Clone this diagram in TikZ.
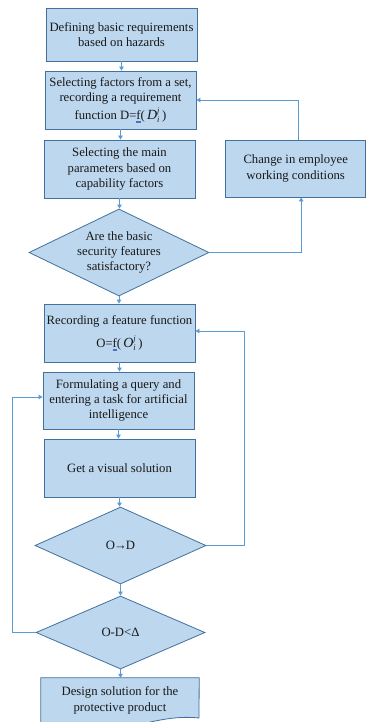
\documentclass[tikz,border=0pt]{standalone}
\usepackage{fontspec}
\setmainfont{Liberation Serif}
\usetikzlibrary{shapes.geometric,arrows.meta}
\definecolor{boxfill}{HTML}{BDD7EE}
\definecolor{boxline}{HTML}{41719C}
\definecolor{arr}{HTML}{5B9BD5}
\definecolor{ulblue}{HTML}{4472C4}
\newcommand\dul[1]{\setbox0\hbox{#1}\rlap{\textcolor{ulblue}{\rule[-1.8pt]{\wd0}{0.45pt}}}\rlap{\textcolor{ulblue}{\rule[-3.2pt]{\wd0}{0.45pt}}}\box0}
\newcommand\myvar[3]{$\mbox{\fontsize{14}{15}\selectfont\textit{#1}}^{\mbox{\fontsize{8.5}{9}\selectfont\textit{#2}}}_{\mbox{\fontsize{8.5}{9}\selectfont\textit{#3}}}$}
\begin{document}
\begin{tikzpicture}[x=1pt,y=-1pt,
  font=\fontsize{12.7}{15.3}\selectfont,
  box/.style={draw=boxline, fill=boxfill, line width=0.8pt, minimum width=151pt, minimum height=58pt, align=center, inner sep=0pt, text=black!90},
  dia/.style={diamond, draw=boxline, fill=boxfill, line width=0.8pt, inner sep=0pt},
  conn/.style={draw=arr, line width=0.8pt, -{Triangle[width=4.5pt,length=4pt]}}]
\useasboundingbox (0,0) rectangle (366,722);

\node[box, minimum height=53pt] (b1) at (121.5,34.5) {Defining basic requirements\\based on hazards};
\node[box] (b2) at (120.5,100) {Selecting factors from a set,\\recording a requirement\\[2pt]function D=\dul{f}(\,\myvar{D}{j}{i}\,)};
\node[box] (b3) at (119.5,169) {Selecting the main\\parameters based on\\capability factors};
\node[box, minimum width=140pt, minimum height=57pt] (ch) at (295.7,168.5) {Change in employee\\working conditions};
\node[dia, minimum width=180pt, minimum height=87pt,
  label={[align=center, text=black!90]center:Are the basic\\security features\\satisfactory?}] (d1) at (119,252.5) {};
\node[box] (b4) at (119.5,333) {Recording a feature function\\[8pt]O=\dul{f}(\,\myvar{O}{j}{i}\,)};
\node[box, minimum height=57pt] (b5) at (118.5,400.5) {Formulating a query and\\entering a task for artificial\\intelligence};
\node[box] (b6) at (119.5,468) {Get a visual solution};
\node[dia, minimum width=171pt, minimum height=77pt,
  label={[text=black!90]center:O\kern-1pt→\kern-1pt D}] (d2) at (120.5,545.5) {};
\node[dia, minimum width=169pt, minimum height=73pt,
  label={[text=black!90]center:O-D<Δ}] (d3) at (120.5,632.5) {};
\node[minimum width=158pt, minimum height=44pt, inner sep=0pt, align=center, text=black!90] (b7) at (120,700) {};
\fill[boxfill] (b7.north west) -- (b7.north east) -- (199,718) .. controls (180,716) and (165,719) .. (150,722) -- (b7.south west) -- cycle;
\draw[boxline, line width=0.8pt] (b7.south west) -- (b7.north west) -- (b7.north east) -- (199,718) .. controls (180,716) and (165,719) .. (150,722);
\node[align=center, text=black!90] at (120,700.5) {Design solution for the\\protective product};

\draw[conn] (b1.south) -- (b1.south |- b2.north);
\draw[conn] (b2.south) -- (b2.south |- b3.north);
\draw[conn] (b3.south) -- (b3.south |- d1.north);
\draw[conn] (d1.south) -- (d1.south |- b4.north);
\draw[conn] (b4.south) -- (b4.south |- b5.north);
\draw[conn] (b5.south) -- (b5.south |- b6.north);
\draw[conn] (b6.south) -- (b6.south |- d2.north);
\draw[conn] (d2.south) -- (d2.south |- d3.north);
\draw[conn] (d3.south) -- (d3.south |- b7.north);

\draw[conn] ([xshift=3pt]ch.north) |- (b2.east);
\draw[conn] (d1.east) -| ([xshift=5.5pt]ch.south);
\draw[conn] (d2.east) -- ++(38,0) |- ([yshift=2pt]b4.east);
\draw[conn] (d3.west) -- ++(-23,0) |- ([yshift=3.5pt]b5.west);
\end{tikzpicture}
\end{document}
